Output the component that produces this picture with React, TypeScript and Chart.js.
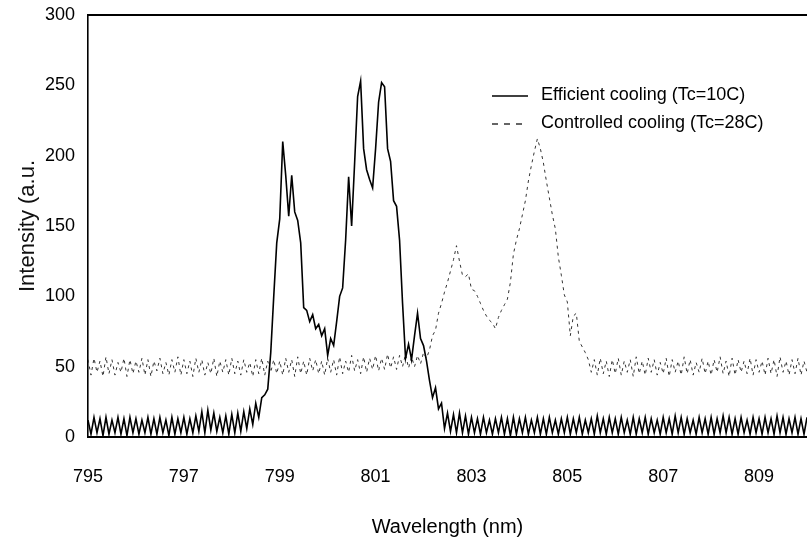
import React, { useEffect, useRef } from "react";
import { Chart, registerables } from "chart.js";

Chart.register(...registerables);

// Sampling grid of the spectra (nm)
const WL_START = 795;
const WL_STEP = 0.0625;

// Efficient cooling (Tc=10C) intensity, one value per grid step (795 .. 810 nm)
const EFFICIENT = [
  12, 2, 14, 3, 13, 1, 14, 2, 12, 3, 14, 2, 13, 1, 14, 3,
  13, 2, 12, 3, 14, 2, 13, 2, 14, 3, 12, 1, 14, 2, 13, 3,
  14, 2, 13, 3, 15, 4, 18, 3, 19, 5, 17, 4, 14, 3, 15, 2,
  16, 3, 17, 4, 18, 6, 20, 9, 24, 14, 28, 30, 34, 60, 100, 138,
  155, 210, 186, 157, 186, 160, 154, 138, 92, 90, 82, 87, 77, 80, 72, 77,
  58, 70, 65, 82, 100, 106, 140, 185, 150, 195, 242, 253, 205, 190, 183, 177,
  205, 238, 252, 249, 205, 196, 168, 164, 140, 95, 56, 66, 55, 72, 88, 70,
  65, 54, 40, 28, 35, 20, 24, 6, 17, 4, 16, 3, 17, 3, 15, 2,
  14, 3, 13, 2, 14, 3, 12, 2, 13, 3, 14, 2, 13, 1, 14, 2,
  13, 3, 14, 2, 12, 3, 14, 2, 13, 2, 14, 3, 12, 2, 13, 3,
  14, 2, 13, 3, 14, 2, 12, 3, 13, 2, 15, 3, 13, 2, 14, 3,
  13, 2, 14, 3, 12, 2, 14, 2, 13, 3, 14, 2, 13, 3, 12, 2,
  14, 3, 13, 2, 15, 3, 14, 2, 13, 3, 12, 2, 14, 3, 13, 2,
  14, 2, 13, 3, 15, 3, 14, 2, 13, 2, 14, 3, 12, 2, 14, 3,
  13, 2, 14, 3, 13, 2, 15, 3, 14, 2, 13, 3, 14, 2, 13, 2,
  14,
];

// Controlled cooling (Tc=28C) intensity
const CONTROLLED = [
  55, 44, 56, 46, 54, 43, 57, 45, 55, 44, 53, 46, 56, 43, 55, 45,
  54, 46, 56, 44, 55, 43, 54, 47, 56, 45, 53, 44, 55, 46, 57, 44,
  55, 45, 54, 43, 56, 46, 55, 44, 53, 45, 56, 43, 54, 46, 55, 44,
  56, 45, 54, 44, 55, 46, 53, 43, 55, 45, 56, 44, 54, 46, 55, 45,
  54, 44, 56, 46, 55, 43, 57, 45, 54, 44, 56, 47, 55, 45, 54, 44,
  56, 46, 55, 44, 57, 45, 54, 46, 58, 47, 55, 45, 57, 46, 56, 48,
  58, 47, 56, 48, 59, 49, 57, 48, 58, 50, 59, 49, 57, 50, 58, 52,
  60, 56, 62, 72, 76, 88, 95, 103, 110, 118, 126, 136, 125, 115, 114, 116,
  105, 104, 100, 95, 90, 86, 83, 81, 77, 85, 90, 94, 98, 110, 130, 140,
  148, 158, 168, 182, 193, 203, 212, 205, 195, 182, 170, 158, 148, 128, 115, 101,
  96, 72, 86, 88, 68, 64, 60, 55, 46, 55, 44, 56, 45, 54, 43, 55,
  45, 56, 44, 54, 46, 55, 43, 57, 45, 54, 44, 56, 46, 55, 44, 53,
  45, 56, 43, 55, 46, 54, 44, 57, 45, 55, 44, 53, 46, 56, 45, 54,
  44, 55, 46, 57, 45, 54, 43, 56, 44, 55, 46, 54, 45, 56, 44, 55,
  46, 54, 44, 56, 45, 55, 43, 57, 46, 54, 44, 55, 45, 56, 44, 54,
  46,
];

const X_TICKS = [795, 797, 799, 801, 803, 805, 807, 809];
const Y_TICKS = [0, 50, 100, 150, 200, 250, 300];
const SERIES_LABELS = ["Efficient cooling (Tc=10C)", "Controlled cooling (Tc=28C)"];

const NARROW = "'Liberation Sans Narrow', 'Liberation Sans', Arial, sans-serif";
const REGULAR = "'Liberation Sans', Arial, sans-serif";

const framePlugin = {
  id: "frameAndLegend",
  afterDraw(chart: any) {
    const { ctx, chartArea } = chart;
    ctx.save();
    // top border
    ctx.strokeStyle = "#000";
    ctx.lineWidth = 2;
    ctx.beginPath();
    ctx.moveTo(chartArea.left, chartArea.top);
    ctx.lineTo(chartArea.right, chartArea.top);
    ctx.stroke();

    // legend
    const lx0 = 492;
    const lx1 = 528;
    const tx = 541;
    const y1 = 96;
    const y2 = 124;
    ctx.lineWidth = 1.4;
    ctx.beginPath();
    ctx.moveTo(lx0, y1);
    ctx.lineTo(lx1, y1);
    ctx.stroke();
    ctx.setLineDash([6, 6]);
    ctx.lineWidth = 1.2;
    ctx.beginPath();
    ctx.moveTo(lx0, y2);
    ctx.lineTo(lx1, y2);
    ctx.stroke();
    ctx.setLineDash([]);
    ctx.fillStyle = "#000";
    ctx.font = `18px ${NARROW}`;
    ctx.textBaseline = "middle";
    ctx.textAlign = "left";
    ctx.fillText(SERIES_LABELS[0], tx, y1 - 1);
    ctx.fillText(SERIES_LABELS[1], tx, y2 - 1);
    ctx.restore();
  },
};

export default function App() {
  const ref = useRef<HTMLCanvasElement | null>(null);

  useEffect(() => {
    if (!ref.current) return;
    const toPoints = (arr: number[]) =>
      arr.map((y, i) => ({ x: WL_START + i * WL_STEP, y }));

    const chart = new Chart(ref.current, {
      type: "line",
      data: {
        datasets: [
          {
            label: SERIES_LABELS[0],
            data: toPoints(EFFICIENT),
            borderColor: "#000",
            borderWidth: 1.6,
            pointRadius: 0,
            tension: 0,
            fill: false,
          },
          {
            label: SERIES_LABELS[1],
            data: toPoints(CONTROLLED),
            borderColor: "#333",
            borderWidth: 1,
            borderDash: [3, 4],
            pointRadius: 0,
            tension: 0,
            fill: false,
          },
        ],
      },
      options: {
        responsive: false,
        animation: false,
        devicePixelRatio: 1,
        layout: { padding: { left: 0, right: 0, top: 15, bottom: 0 } },
        plugins: {
          legend: { display: false },
          tooltip: { enabled: false },
        },
        scales: {
          x: {
            type: "linear",
            min: 795,
            max: 810,
            afterBuildTicks: (scale: any) => {
              scale.ticks = X_TICKS.map((v) => ({ value: v }));
            },
            afterFit: (scale: any) => {
              scale.height = 120;
              scale.paddingLeft = 0;
              scale.paddingRight = 0;
            },
            grid: { display: false, drawTicks: false },
            border: { display: true, color: "#000", width: 2 },
            ticks: {
              color: "#000",
              padding: 29,
              font: { family: NARROW, size: 18 },
              maxRotation: 0,
              autoSkip: false,
            },
            title: {
              display: true,
              text: "Wavelength (nm)",
              color: "#000",
              font: { family: NARROW, size: 20 },
              padding: { top: 0, bottom: 18 },
            },
          },
          y: {
            min: 0,
            max: 300,
            afterBuildTicks: (scale: any) => {
              scale.ticks = Y_TICKS.map((v) => ({ value: v }));
            },
            afterFit: (scale: any) => {
              scale.width = 88;
              scale.paddingTop = 0;
              scale.paddingBottom = 0;
            },
            grid: { display: false, drawTicks: false },
            border: { display: true, color: "#000", width: 1.6 },
            ticks: {
              color: "#000",
              padding: 13,
              font: { family: NARROW, size: 18 },
            },
            title: {
              display: true,
              text: "Intensity (a.u.",
              color: "#111",
              font: { family: REGULAR, size: 22 },
              padding: { top: 15, bottom: 0 },
            },
          },
        },
      },
      plugins: [framePlugin],
    } as any);

    return () => chart.destroy();
  }, []);

  return (
    <div
      style={{
        position: "fixed",
        left: 0,
        top: 0,
        width: 807,
        height: 557,
        background: "#fff",
      }}
    >
      <canvas ref={ref} width={807} height={557} />
    </div>
  );
}
